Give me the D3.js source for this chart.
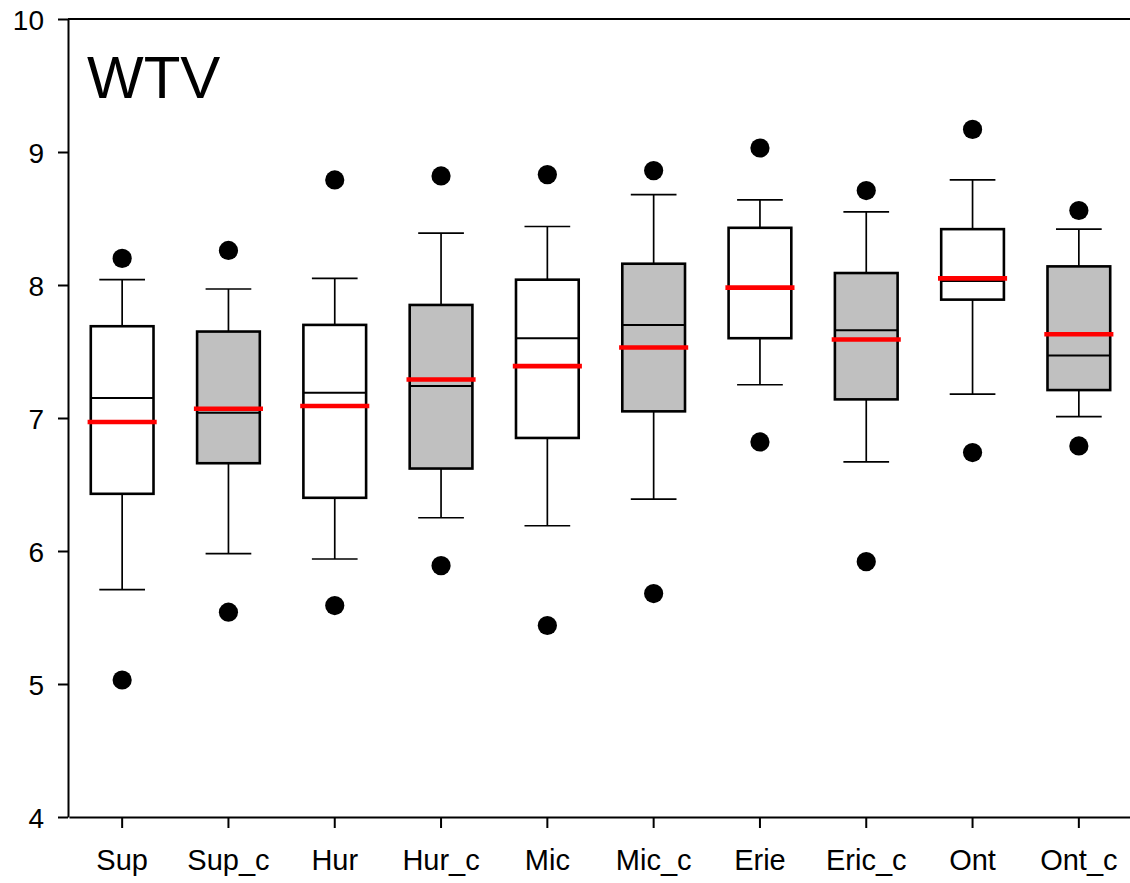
<!DOCTYPE html>
<html>
<head>
<meta charset="utf-8">
<script src="https://cdn.jsdelivr.net/npm/d3@7"></script>
<style>
  html, body { margin: 0; padding: 0; background: #fff; }
  svg { display: block; font-family: "Liberation Sans", Arial, sans-serif; }
</style>
</head>
<body>
<div id="chart"></div>
<script>
/* Data */
const categories = ["Sup", "Sup_c", "Hur", "Hur_c", "Mic", "Mic_c", "Erie", "Eric_c", "Ont", "Ont_c"];
const whiskerLow  = [5.71, 5.98, 5.94, 6.25, 6.19, 6.39, 7.25, 6.67, 7.18, 7.01];
const q1          = [6.43, 6.66, 6.40, 6.62, 6.85, 7.05, 7.60, 7.14, 7.89, 7.21];
const medians     = [7.15, 7.04, 7.19, 7.24, 7.60, 7.70, 7.97, 7.66, 8.03, 7.47];
const q3          = [7.69, 7.65, 7.70, 7.85, 8.04, 8.16, 8.43, 8.09, 8.42, 8.14];
const whiskerHigh = [8.04, 7.97, 8.05, 8.39, 8.44, 8.68, 8.64, 8.55, 8.79, 8.42];
const means       = [6.97, 7.07, 7.09, 7.29, 7.39, 7.53, 7.98, 7.59, 8.05, 7.63];
const outlierLow  = [5.03, 5.54, 5.59, 5.89, 5.44, 5.68, 6.82, 5.92, 6.74, 6.79];
const outlierHigh = [8.20, 8.26, 8.79, 8.82, 8.83, 8.86, 9.03, 8.71, 9.17, 8.56];
const yTicks = [4, 5, 6, 7, 8, 9, 10];
const panelTitle = "WTV";

const W = 1130, H = 883;
const margin = { left: 68, top: 19, bottom: 817, right: 1132 };

const svg = d3.select("#chart").append("svg")
    .attr("width", W)
    .attr("height", H);

/* Scales */
const x = d3.scaleBand().domain(categories).range([margin.left + 1, margin.right]).padding(0);
const y = d3.scaleLinear().domain([4, 10]).range([margin.bottom, margin.top]);
const bw = x.bandwidth();

const rows = categories.map((c, i) => ({
    cat: c,
    lo: whiskerLow[i], q1: q1[i], med: medians[i], q3: q3[i], hi: whiskerHigh[i],
    mean: means[i], outs: [outlierLow[i], outlierHigh[i]]
}));

/* Axes */
const yAxis = svg.append("g")
    .attr("transform", `translate(${margin.left},0)`)
    .call(d3.axisLeft(y).tickValues(yTicks).tickFormat(d3.format("d"))
        .tickSize(10).tickSizeOuter(0).tickPadding(14));
const xAxis = svg.append("g")
    .attr("transform", `translate(0,${margin.bottom})`)
    .call(d3.axisBottom(x).tickSize(11).tickSizeOuter(0).tickPadding(14));

[yAxis, xAxis].forEach(g => {
    g.select(".domain").attr("stroke", "#000").attr("stroke-width", 2);
    g.selectAll(".tick line").attr("stroke", "#000").attr("stroke-width", 2);
    g.selectAll(".tick text").attr("fill", "#000").style("font-size", "28px")
        .style("font-family", "'Liberation Sans', Arial, sans-serif");
});
yAxis.selectAll(".tick text").attr("dy", "0.36em");
xAxis.selectAll(".tick text").style("font-size", "29px").attr("dy", "0.95em");

/* top frame line */
svg.append("line")
    .attr("x1", margin.left).attr("x2", margin.right)
    .attr("y1", y(10)).attr("y2", y(10))
    .attr("stroke", "#000").attr("stroke-width", 2);

/* Boxes */
const g = svg.append("g");
const box = g.selectAll(".box").data(rows).join("g")
    .attr("class", "box")
    .attr("transform", d => `translate(${x(d.cat) + bw / 2},0)`);

// whiskers
box.append("line")
    .attr("x1", 0).attr("x2", 0)
    .attr("y1", d => y(d.q3)).attr("y2", d => y(d.hi))
    .attr("stroke", "#000").attr("stroke-width", 1.7);
box.append("line")
    .attr("x1", 0).attr("x2", 0)
    .attr("y1", d => y(d.q1)).attr("y2", d => y(d.lo))
    .attr("stroke", "#000").attr("stroke-width", 1.7);
// caps
box.selectAll(".cap").data(d => [d.lo, d.hi]).join("line")
    .attr("class", "cap")
    .attr("x1", -bw * 0.215).attr("x2", bw * 0.215)
    .attr("y1", v => y(v)).attr("y2", v => y(v))
    .attr("stroke", "#000").attr("stroke-width", 1.7);

// box body
box.append("rect")
    .attr("x", -bw * 0.295)
    .attr("width", bw * 0.59)
    .attr("y", d => y(d.q3))
    .attr("height", d => y(d.q1) - y(d.q3))
    .attr("fill", d => d.cat.endsWith("_c") ? "#c0c0c0" : "#fff")
    .attr("stroke", "#000")
    .attr("stroke-width", 2.6);

// median
box.append("line")
    .attr("x1", -bw * 0.295).attr("x2", bw * 0.295)
    .attr("y1", d => y(d.med)).attr("y2", d => y(d.med))
    .attr("stroke", "#000").attr("stroke-width", 2);

// mean
box.append("line")
    .attr("x1", -bw * 0.325).attr("x2", bw * 0.325)
    .attr("y1", d => y(d.mean)).attr("y2", d => y(d.mean))
    .attr("stroke", "#ff0000").attr("stroke-width", 4.6);

// outliers
box.selectAll(".out").data(d => d.outs).join("circle")
    .attr("class", "out")
    .attr("cx", 0)
    .attr("cy", v => y(v))
    .attr("r", 9.6)
    .attr("fill", "#000");

/* Panel title */
svg.append("text")
    .attr("x", 87)
    .attr("y", 98)
    .style("font-size", "60px")
    .attr("fill", "#000")
    .text(panelTitle);
</script>
</body>
</html>
